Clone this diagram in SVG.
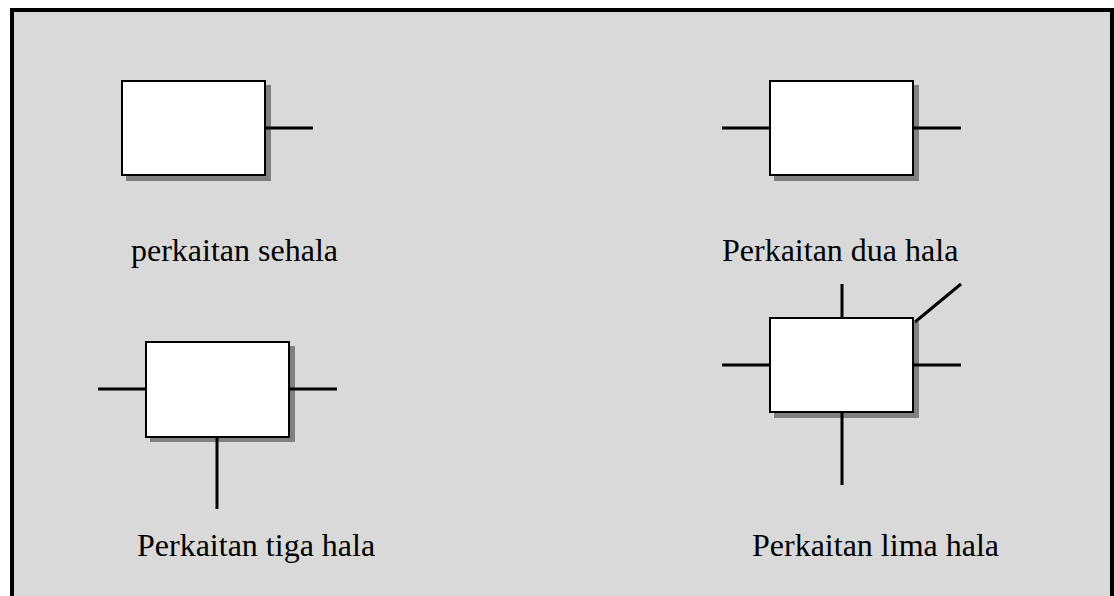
<svg xmlns="http://www.w3.org/2000/svg" width="1114" height="596" viewBox="0 0 1114 596">
  <style>
    .shadow { fill: #808080; }
    .box { fill: #ffffff; stroke: #000000; stroke-width: 2; }
    .link { stroke: #000000; stroke-width: 3; fill: none; }
    .label { font-family: "Liberation Serif", "Times New Roman", serif; font-size: 32px; fill: #000000; }
  </style>
  <!-- panel -->
  <rect x="12" y="10" width="1100" height="600" fill="#d9d9d9" stroke="#000000" stroke-width="4"/>

  <g id="node-sehala">
    <rect class="shadow" x="126" y="85" width="145" height="96"/>
    <rect class="box" x="122" y="81" width="143" height="94"/>
    <text class="label" x="131" y="261">perkaitan sehala</text>
  </g>

  <g id="node-dua-hala">
    <rect class="shadow" x="774" y="85" width="145" height="96"/>
    <rect class="box" x="770" y="81" width="143" height="94"/>
    <text class="label" x="722" y="261">Perkaitan dua hala</text>
  </g>

  <g id="node-tiga-hala">
    <rect class="shadow" x="150" y="346" width="145" height="96"/>
    <rect class="box" x="146" y="342" width="143" height="95"/>
    <text class="label" x="137" y="556">Perkaitan tiga hala</text>
  </g>

  <g id="node-lima-hala">
    <rect class="shadow" x="774" y="322" width="145" height="96"/>
    <rect class="box" x="770" y="318" width="143" height="94"/>
    <text class="label" x="752" y="556">Perkaitan lima hala</text>
  </g>

  <g id="connectors">
    <!-- one-way -->
    <line class="link" x1="265" y1="128" x2="313" y2="128"/>
    <!-- two-way -->
    <line class="link" x1="722" y1="128" x2="770" y2="128"/>
    <line class="link" x1="913" y1="128" x2="961" y2="128"/>
    <!-- three-way -->
    <line class="link" x1="98" y1="389" x2="146" y2="389"/>
    <line class="link" x1="289" y1="389" x2="337" y2="389"/>
    <line class="link" x1="217" y1="437" x2="217" y2="509"/>
    <!-- five-way -->
    <line class="link" x1="842" y1="284" x2="842" y2="318"/>
    <line class="link" x1="842" y1="412" x2="842" y2="485"/>
    <line class="link" x1="722" y1="365" x2="770" y2="365"/>
    <line class="link" x1="913" y1="365" x2="961" y2="365"/>
    <line class="link" x1="915" y1="322" x2="961" y2="284"/>
  </g>
</svg>
